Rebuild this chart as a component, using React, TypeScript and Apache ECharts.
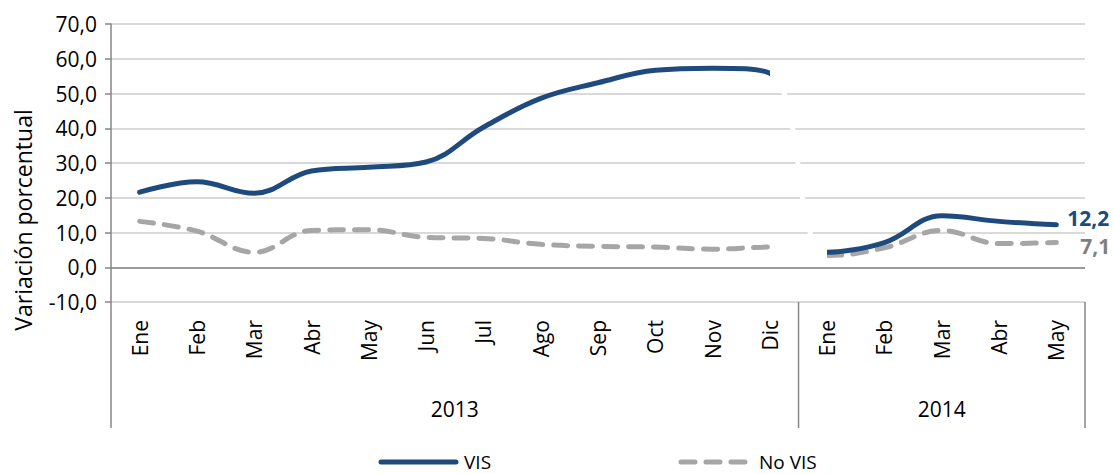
import React, { useEffect, useRef } from "react";
import * as echarts from "echarts";

const months = ["Ene", "Feb", "Mar", "Abr", "May", "Jun", "Jul", "Ago", "Sep", "Oct", "Nov", "Dic", "Ene", "Feb", "Mar", "Abr", "May"];
const years = ["2013", "2014"];
const yearSpans = [12, 5];
const seriesNames = ["VIS", "No VIS"];
const visValues = [21.6, 24.6, 21.3, 27.7, 28.8, 30.3, 40.3, 48.6, 53.1, 56.7, 57.3, 55.8, 4.3, 7.1, 14.8, 13.2, 12.2];
const noVisValues = [13.2, 10.4, 4.3, 10.6, 10.8, 8.6, 8.3, 6.6, 6.0, 5.8, 5.2, 5.8, 3.4, 5.6, 10.6, 6.8, 7.1];
const yMin = -10;
const yMax = 70;
const yStep = 10;

const BLUE = "#1F4A7E";
const GREY = "#A6A6A6";
const FONT = "Open Sans";
const FS = 21;
const DASH = [14, 11];
const fmt = (v: number) => v.toFixed(1).replace(".", ",");

export default function App() {
  const ref = useRef<HTMLDivElement>(null);
  useEffect(() => {
    const chart = echarts.init(ref.current!, null, { renderer: "svg" });
    const breakAt = yearSpans[0] - 1;
    const option: any = {
      animation: false,
      textStyle: { fontFamily: FONT },
      grid: { left: 111, right: 28, top: 24, bottom: 172 },
      visualMap: [
        {
          show: false,
          type: "piecewise",
          dimension: 0,
          seriesIndex: 1,
          pieces: [
            { lte: breakAt, color: BLUE },
            { gt: breakAt, lt: breakAt + 1, color: "#FFFFFF" },
            { gte: breakAt + 1, color: BLUE },
          ],
        },
        {
          show: false,
          type: "piecewise",
          dimension: 0,
          seriesIndex: 0,
          pieces: [
            { lte: breakAt, color: GREY },
            { gt: breakAt, lt: breakAt + 1, color: "#FFFFFF" },
            { gte: breakAt + 1, color: GREY },
          ],
        },
      ],
      xAxis: {
        type: "category",
        data: months,
        boundaryGap: true,
        axisLine: { show: false },
        axisTick: { show: false },
        axisLabel: { rotate: 90, fontSize: FS, color: "#000", margin: 18, fontFamily: FONT },
        splitLine: { show: false },
      },
      yAxis: {
        type: "value",
        min: yMin,
        max: yMax,
        interval: yStep,
        axisLine: { show: true, lineStyle: { color: "#868686", width: 1.5 } },
        axisTick: { show: true, length: 6, lineStyle: { color: "#868686", width: 1.5 } },
        axisLabel: { formatter: (v: number) => fmt(v), fontSize: FS, color: "#000", margin: 14, fontFamily: FONT },
        splitLine: { lineStyle: { color: "#D9D9D9", width: 2 } },
      },
      series: [
        {
          name: seriesNames[1],
          type: "line",
          data: noVisValues,
          smooth: 0.4,
          symbol: "none",
          lineStyle: { width: 5, type: DASH, cap: "round" },
          endLabel: {
            show: true,
            formatter: (p: any) => fmt(p.value),
            color: "#7F7F7F",
            fontWeight: "bold",
            fontSize: FS,
            distance: 24,
            offset: [0, 3],
            fontFamily: FONT,
          },
          markLine: {
            silent: true,
            symbol: "none",
            label: { show: false },
            lineStyle: { color: "#868686", width: 1.5, type: "solid" },
            data: [{ yAxis: 0 }],
          },
          z: 3,
        },
        {
          name: seriesNames[0],
          type: "line",
          data: visValues,
          smooth: 0.4,
          symbol: "none",
          lineStyle: { width: 5, cap: "round" },
          endLabel: {
            show: true,
            formatter: (p: any) => fmt(p.value),
            color: BLUE,
            fontWeight: "bold",
            fontSize: FS,
            distance: 11,
            offset: [0, -7],
            fontFamily: FONT,
          },
          z: 4,
        },
      ],
    };
    chart.setOption(option);

    const x0 = chart.convertToPixel({ xAxisIndex: 0 }, 0) as number;
    const x1 = chart.convertToPixel({ xAxisIndex: 0 }, 1) as number;
    const band = x1 - x0;
    const left = x0 - band / 2;
    const yBottom = chart.convertToPixel({ yAxisIndex: 0 }, yMin) as number;
    const yEnd = 428;
    const graphics: any[] = [];
    graphics.push({
      type: "line",
      shape: { x1: left, y1: yBottom, x2: left, y2: yEnd },
      style: { stroke: "#868686", lineWidth: 1.5 },
      silent: true,
    });
    let start = 0;
    years.forEach((yr, i) => {
      const span = yearSpans[i];
      const xr = left + (start + span) * band;
      graphics.push({
        type: "line",
        shape: { x1: xr, y1: yBottom, x2: xr, y2: yEnd },
        style: { stroke: "#868686", lineWidth: 1.5 },
        silent: true,
      });
      graphics.push({
        type: "text",
        x: left + (start + span / 2) * band,
        y: 409,
        style: { text: yr, fill: "#000", font: `${FS}px "${FONT}"`, align: "center", verticalAlign: "middle" },
        silent: true,
      });
      start += span;
    });
    graphics.push({
      type: "text",
      x: 23,
      y: 220,
      rotation: Math.PI / 2,
      style: { text: "Variación porcentual", fill: "#000", font: `23px "${FONT}"`, align: "center", verticalAlign: "middle" },
      silent: true,
    });
    // legend
    const ly = 462;
    graphics.push({
      type: "line",
      shape: { x1: 381, y1: ly, x2: 456, y2: ly },
      style: { stroke: BLUE, lineWidth: 5, lineCap: "round" },
      silent: true,
    });
    graphics.push({
      type: "text",
      x: 464,
      y: ly,
      style: { text: seriesNames[0], fill: "#000", font: `19px "${FONT}"`, lineHeight: 20, align: "left", verticalAlign: "middle" },
      silent: true,
    });
    graphics.push({
      type: "line",
      shape: { x1: 681, y1: ly, x2: 746, y2: ly },
      style: { stroke: GREY, lineWidth: 5, lineCap: "round", lineDash: DASH },
      silent: true,
    });
    graphics.push({
      type: "text",
      x: 759,
      y: ly,
      style: { text: seriesNames[1], fill: "#000", font: `19px "${FONT}"`, lineHeight: 20, align: "left", verticalAlign: "middle" },
      silent: true,
    });
    chart.setOption({ graphic: graphics });
    return () => chart.dispose();
  }, []);
  return <div ref={ref} style={{ position: "absolute", left: 0, top: 0, width: 1113, height: 474 }} />;
}
